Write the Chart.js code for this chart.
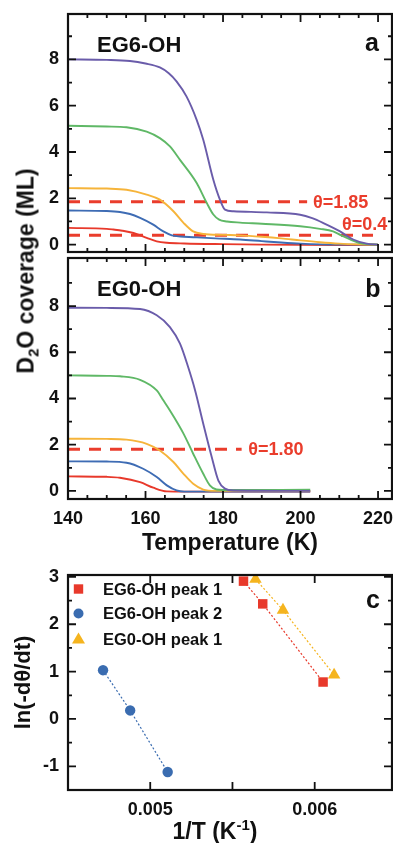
<!DOCTYPE html>
<html><head><meta charset="utf-8">
<script src="https://cdn.jsdelivr.net/npm/chart.js@4.4.0/dist/chart.umd.min.js"></script>
<style>
html,body{margin:0;padding:0;background:#fff;width:393px;height:843px;overflow:hidden;position:relative;}
canvas{position:absolute;left:0;}
.t{position:absolute;font:bold 23px "Liberation Sans",Arial,sans-serif;color:#111;white-space:nowrap;line-height:1;}
.t sub{font-size:15px;vertical-align:-5px;line-height:0;}
.t sup{font-size:15px;vertical-align:9px;line-height:0;}
</style></head><body>
<canvas id="ca" width="393" height="256" style="top:0"></canvas>
<canvas id="cb" width="393" height="304" style="top:256px"></canvas>
<canvas id="cc" width="393" height="283" style="top:560px"></canvas>
<div class="t" style="left:26px;top:271px;transform:translate(-50%,-50%) rotate(-90deg)">D<sub>2</sub>O coverage (ML)</div>
<div class="t" style="left:215px;top:831px;transform:translate(-50%,-50%)">1/T (K<sup>-1</sup>)</div>
<script>
// ---------- Panel a : EG6-OH (temperature K, coverage ML) ----------
const aPurpleT = [140,150,156,160,163.7,166,168,170.6,173.2,174.9,177.5,179.2,180.5,182.7,191.3,199.9,203,205.9,210.2,213.6,217.1,220];
const aPurpleV = [8.00,7.98,7.93,7.82,7.65,7.40,7.05,6.39,5.39,4.53,2.80,1.94,1.51,1.44,1.39,1.29,1.14,0.93,0.57,0.22,0.04,0.0];
const aGreenT = [140,150,155.1,160.3,163.7,166.3,168.9,173.2,175.8,177.5,179,181,184.4,190,199.9,205,208.4,210.5,212.8,215,217.1,220];
const aGreenV = [5.13,5.10,5.07,4.88,4.60,4.24,3.66,2.66,1.80,1.30,1.08,1.00,0.95,0.90,0.79,0.68,0.57,0.40,0.22,0.08,0.02,0.0];
const aOrangeT = [140,150,155.1,160.3,163.7,167.2,169.8,172.3,174.9,180,184.4,190,195,200,205,210,215,220];
const aOrangeV = [2.44,2.42,2.37,2.16,1.94,1.44,0.94,0.57,0.46,0.42,0.40,0.34,0.27,0.18,0.10,0.04,0.01,0.0];
const aBlueT = [140,150,153.4,156,158.6,162,164.6,166.8,169,172.3,178,184.4,190,195,200,205,210,220];
const aBlueV = [1.47,1.45,1.41,1.32,1.15,0.86,0.57,0.40,0.35,0.32,0.27,0.22,0.15,0.09,0.04,0.01,0.0,0.0];
const aRedT = [140,150,151.7,154,156.9,160.3,162.9,165.5,170,180,190,220];
const aRedV = [0.72,0.68,0.65,0.60,0.50,0.29,0.14,0.08,0.05,0.02,0.0,-0.02];
const aRefHighT = [140,201.7]; const aRefHighV = [1.85,1.85];
const aRefLowT = [140,218.7];  const aRefLowV = [0.4,0.4];

// ---------- Panel b : EG0-OH ----------
const bPurpleT = [140,150,158.6,162.9,166.3,168.9,171,172.8,174.9,177.1,178.8,180.5,182.7,202.5];
const bPurpleV = [7.93,7.92,7.87,7.60,7.09,6.37,5.36,4.35,2.91,1.46,0.45,0.10,0.02,0.0];
const bGreenT = [140,150,153.4,158.6,162.9,164.6,166.3,169.8,172.3,174.9,176.6,178.3,180,202.5];
const bGreenV = [5.00,4.98,4.96,4.81,4.35,3.92,3.48,2.48,1.61,0.74,0.24,0.06,0.04,0.05];
const bOrangeT = [140,150,155.1,160.3,163.7,167.2,169.8,172.3,174.9,178,202.5];
const bOrangeV = [2.26,2.25,2.22,2.04,1.75,1.25,0.74,0.31,0.06,0.0,0.0];
const bBlueT = [140,150,155.1,159.4,162.9,165.5,168,170,202.5];
const bBlueV = [1.28,1.27,1.22,0.96,0.60,0.24,0.02,-0.03,-0.03];
const bRedT = [140,150,153.4,158.6,162,165.5,170,202.5];
const bRedV = [0.63,0.61,0.57,0.38,0.14,-0.02,-0.03,-0.03];
const bRefT = [140,184.8]; const bRefV = [1.80,1.80];

// ---------- Panel c : Arrhenius (1/T, ln(-dθ/dt)) ----------
const cLabels = ['EG6-OH peak 1','EG6-OH peak 2','EG0-OH peak 1'];
const cPeak1EG6X = [0.005567,0.005684,0.006051]; const cPeak1EG6Y = [2.91,2.43,0.78];
const cPeak2EG6X = [0.004713,0.004878,0.005106]; const cPeak2EG6Y = [1.03,0.18,-1.12];
const cPeak1EG0X = [0.005640,0.005807,0.006118]; const cPeak1EG0Y = [2.95,2.30,0.93];

// ---------- tick labels ----------
const tempTicks = [140,160,180,200,220];
const tempMinor = [145,150,155,165,170,175,185,190,195,205,210,215];
const covTicks = [0,2,4,6,8];
const covMinor = [1,3,5,7,9];
const cXTicks = [0.005,0.006]; const cXTickLabels = ['0.005','0.006'];
const cXMarks = [0.0045,0.005,0.0055,0.006,0.0065];
const cYTicks = [-1,0,1,2,3];
const cYMinor = [-0.5,0.5,1.5,2.5];

const COL = {purple:'#6a5caa', green:'#5fb866', orange:'#f6b43a', blue:'#3e6cb4', red:'#e8392b', ref:'#ea3d2c', yellow:'#f5b41e', cblue:'#3a6cb0'};
const FAM = '"Liberation Sans", Arial, sans-serif';
const zip = (xs, ys) => xs.map((x,i)=>({x, y: ys[i]}));

const frameTicks = {
  id:'frameTicks',
  afterDraw(chart, args, o){
    const {ctx, chartArea:a, scales:{x,y}} = chart;
    ctx.save();
    ctx.strokeStyle = '#111';
    ctx.lineWidth = 1.8;
    const drawX = (vals,len)=>vals.forEach(v=>{const p=x.getPixelForValue(v);ctx.beginPath();ctx.moveTo(p,a.bottom);ctx.lineTo(p,a.bottom-len);ctx.moveTo(p,a.top);ctx.lineTo(p,a.top+len);ctx.stroke();});
    const drawY = (vals,len)=>vals.forEach(v=>{const p=y.getPixelForValue(v);ctx.beginPath();ctx.moveTo(a.left,p);ctx.lineTo(a.left+len,p);ctx.moveTo(a.right,p);ctx.lineTo(a.right-len,p);ctx.stroke();});
    drawX(o.xMajor||[], o.major); drawX(o.xMinor||[], o.minor);
    drawY(o.yMajor||[], o.major); drawY(o.yMinor||[], o.minor);
    ctx.lineWidth = 2.2;
    ctx.strokeRect(a.left, a.top, a.right-a.left, a.bottom-a.top);
    ctx.restore();
  }
};
const textLabels = {
  id:'textLabels',
  afterDraw(chart, args, o){
    const {ctx, chartArea:a, scales:{x,y}} = chart;
    (o.items||[]).forEach(it=>{
      ctx.save();
      ctx.font = it.font; ctx.fillStyle = it.color || '#111';
      ctx.textAlign = it.align || 'left'; ctx.textBaseline = 'middle';
      const px = it.data ? x.getPixelForValue(it.x) : a.left + it.dx;
      const py = it.data ? y.getPixelForValue(it.y) : a.top + it.dy;
      ctx.fillText(it.text, px, py);
      ctx.restore();
    });
  }
};
const legendC = {
  id:'legendC',
  afterDraw(chart, args, o){
    const {ctx, chartArea:a} = chart;
    const ds = chart.data.datasets;
    ctx.save();
    o.rows.forEach((r,i)=>{
      const d = ds[i];
      const mx = a.left + o.dx, my = a.top + r;
      ctx.fillStyle = d.pointBackgroundColor;
      ctx.beginPath();
      if (d.pointStyle === 'rect') ctx.rect(mx-4.7, my-4.7, 9.4, 9.4);
      else if (d.pointStyle === 'circle') ctx.arc(mx, my, 5, 0, Math.PI*2);
      else { ctx.moveTo(mx, my-6.5); ctx.lineTo(mx+6.5, my+4.5); ctx.lineTo(mx-6.5, my+4.5); ctx.closePath(); }
      ctx.fill();
      ctx.fillStyle = '#111'; ctx.font = 'bold 16.5px ' + FAM;
      ctx.textAlign = 'left'; ctx.textBaseline = 'middle';
      ctx.fillText(d.label, a.left + o.textDx, my + 1);
    });
    ctx.restore();
  }
};

const lineDs = (label, xs, ys, color) => ({label, data: zip(xs, ys), borderColor: color, borderWidth: 1.9, pointRadius: 0, cubicInterpolationMode: 'monotone', fill: false});
const refDs = (label, xs, ys) => ({label, data: zip(xs, ys), borderColor: COL.ref, borderWidth: 3, borderDash: [12, 9], pointRadius: 0, fill: false, tension: 0});

const tickFont = {family: FAM, size: 18, weight: 'bold'};
const common = {responsive:false, animation:false, devicePixelRatio:1, events:[]};
const noPadX = s => { s.paddingLeft = 0; s.paddingRight = 0; };
const noPadY = s => { s.paddingTop = 0; s.paddingBottom = 0; };

function tempPanel(id, datasets, yMin, yMax, padTop, xHeight, showXLabels, items){
  return new Chart(document.getElementById(id), {
    type:'line',
    data:{datasets},
    plugins:[frameTicks, textLabels],
    options:{...common,
      layout:{padding:{top:padTop, right:1, left:0, bottom:0}, autoPadding:false},
      plugins:{legend:{display:false}, tooltip:{enabled:false},
        frameTicks:{xMajor:tempTicks, xMinor:tempMinor, yMajor:covTicks, yMinor:covMinor, major:8, minor:4},
        textLabels:{items}},
      scales:{
        x:{type:'linear', min:140, max:223.6,
           afterBuildTicks:s=>{s.ticks = tempTicks.map(v=>({value:v}));},
           afterFit:s=>{s.height = xHeight; noPadX(s);},
           grid:{display:false, drawTicks:false}, border:{display:false},
           ticks:{display:showXLabels, padding:9, font:tickFont, color:'#111', maxRotation:0, autoSkip:false, callback:(v)=>String(v)},
           title:{display:showXLabels, text:'Temperature (K)', font:{family:FAM, size:23, weight:'bold'}, color:'#111', padding:{top:0, bottom:3}}},
        y:{type:'linear', min:yMin, max:yMax,
           afterBuildTicks:s=>{s.ticks = covTicks.map(v=>({value:v}));},
           afterFit:s=>{s.width = 68; noPadY(s);},
           grid:{display:false, drawTicks:false}, border:{display:false},
           ticks:{padding:9, font:tickFont, color:'#111', callback:(v)=>String(v)}}
      }
    }
  });
}

const labelFont = 'bold 22px ' + FAM;
const panelFont = 'bold 25px ' + FAM;
const thetaFont = 'bold 18px ' + FAM;

tempPanel('ca', [
  lineDs('purple', aPurpleT, aPurpleV, COL.purple),
  lineDs('green', aGreenT, aGreenV, COL.green),
  lineDs('orange', aOrangeT, aOrangeV, COL.orange),
  lineDs('blue', aBlueT, aBlueV, COL.blue),
  lineDs('red', aRedT, aRedV, COL.red),
  refDs('θ=1.85', aRefHighT, aRefHighV),
  refDs('θ=0.4', aRefLowT, aRefLowV)
], -0.32, 9.96, 14, 4, false, [
  {text:'EG6-OH', dx:29, dy:31.5, font:labelFont},
  {text:'a', dx:304, dy:30, font:panelFont, align:'center'},
  {text:'θ=1.85', data:true, x:203.2, y:1.80, font:thetaFont, color:COL.ref},
  {text:'θ=0.4', data:true, x:210.7, y:0.86, font:thetaFont, color:COL.ref}
]);

tempPanel('cb', [
  lineDs('purple', bPurpleT, bPurpleV, COL.purple),
  lineDs('green', bGreenT, bGreenV, COL.green),
  lineDs('orange', bOrangeT, bOrangeV, COL.orange),
  lineDs('blue', bBlueT, bBlueV, COL.blue),
  lineDs('red', bRedT, bRedV, COL.red),
  refDs('θ=1.80', bRefT, bRefV)
], -0.35, 10.08, 2, 61, true, [
  {text:'EG0-OH', dx:29, dy:32, font:labelFont},
  {text:'b', dx:305, dy:32, font:panelFont, align:'center'},
  {text:'θ=1.80', data:true, x:186.5, y:1.77, font:thetaFont, color:COL.ref}
]);

const ptDs = (label, xs, ys, color, style, r) => ({label, data: zip(xs, ys), showLine:true, borderColor: color, borderWidth: 1.2, borderDash:[2,2], pointStyle: style, pointRadius: r, pointBackgroundColor: color, pointBorderColor: color, pointBorderWidth: 0, tension: 0, fill:false});

new Chart(document.getElementById('cc'), {
  type:'line',
  data:{datasets:[
    ptDs(cLabels[0], cPeak1EG6X, cPeak1EG6Y, COL.red, 'rect', 6.7),
    ptDs(cLabels[1], cPeak2EG6X, cPeak2EG6Y, COL.cblue, 'circle', 5.2),
    ptDs(cLabels[2], cPeak1EG0X, cPeak1EG0Y, COL.yellow, 'triangle', 7.2)
  ]},
  plugins:[frameTicks, textLabels, legendC],
  options:{...common,
    layout:{padding:{top:15, right:1, left:0, bottom:0}, autoPadding:false},
    plugins:{legend:{display:false}, tooltip:{enabled:false},
      frameTicks:{xMajor:cXMarks, xMinor:[], yMajor:cYTicks, yMinor:cYMinor, major:8, minor:4},
      textLabels:{items:[{text:'c', dx:305, dy:26, font:panelFont, align:'center'}]},
      legendC:{dx:10.5, textDx:35, rows:[14, 38.5, 64]}},
    scales:{
      x:{type:'linear', min:0.0045, max:0.00647,
         afterBuildTicks:s=>{s.ticks = cXTicks.map(v=>({value:v}));},
         afterFit:s=>{s.height = 53; noPadX(s);},
         grid:{display:false, drawTicks:false}, border:{display:false},
         ticks:{padding:9, font:tickFont, color:'#111', maxRotation:0, autoSkip:false, callback:(v,i)=>cXTickLabels[i]}},
      y:{type:'linear', min:-1.5, max:3.04,
         afterBuildTicks:s=>{s.ticks = cYTicks.map(v=>({value:v}));},
         afterFit:s=>{s.width = 68; noPadY(s);},
         grid:{display:false, drawTicks:false}, border:{display:false},
         ticks:{padding:9, font:tickFont, color:'#111', callback:(v)=>String(v)},
         title:{display:true, text:'ln(-dθ/dt)', font:{family:FAM, size:22, weight:'bold'}, color:'#111', padding:{top:11, bottom:0}}}
    }
  }
});
</script>
</body></html>
